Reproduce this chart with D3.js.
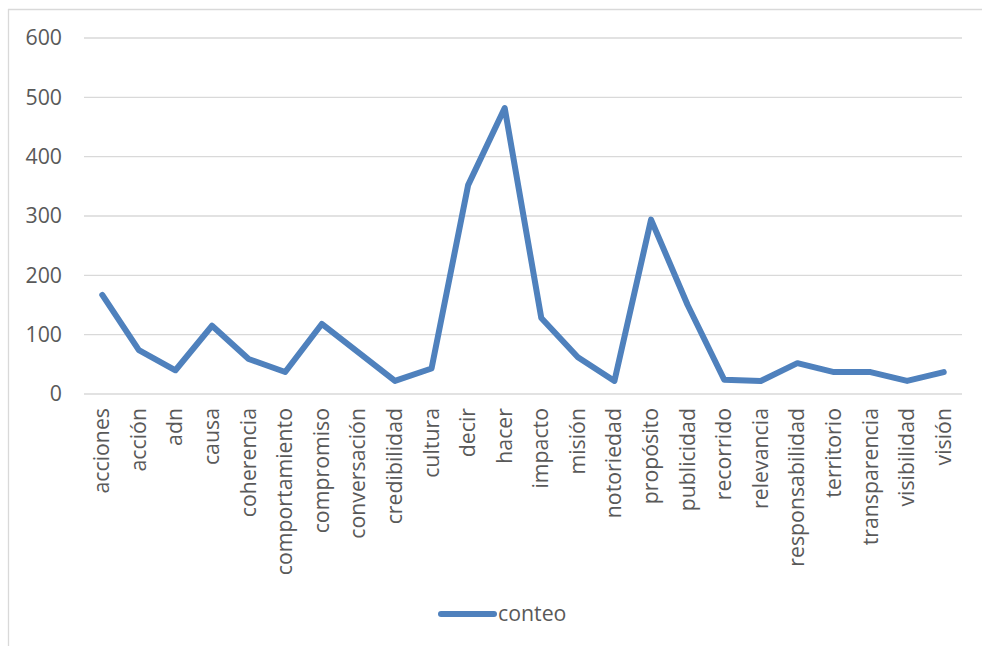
<!DOCTYPE html>
<html>
<head>
<meta charset="utf-8">
<script src="https://cdn.jsdelivr.net/npm/d3@7"></script>
<style>
  body { margin: 0; background: #fff; }
  text { font-family: "Open Sans", sans-serif; fill: #595959; }
</style>
</head>
<body>
<svg id="chart" width="982" height="646"></svg>
<script>
// palabras y conteo
var words = ["acciones", "acción", "adn", "causa", "coherencia", "comportamiento", "compromiso",
  "conversación", "credibilidad", "cultura", "decir", "hacer", "impacto", "misión", "notoriedad",
  "propósito", "publicidad", "recorrido", "relevancia", "responsabilidad", "territorio",
  "transparencia", "visibilidad", "visión"]

var conteo = [167, 74, 40, 115, 59, 37, 118, 70, 22, 43, 352, 482, 128, 62, 22, 294, 150, 24, 22, 52, 37, 37, 22, 37]

var yTicks = [0, 100, 200, 300, 400, 500, 600]

var lineColor = "#4F81BD"
var gridColor = "#d9d9d9"
var fontSize = "21.3px"

var svg = d3.select("#chart")

// marco del grafico (recortado arriba / izquierda)
svg.append("line").attr("x1", 8).attr("x2", 982).attr("y1", 9.5).attr("y2", 9.5)
  .style("stroke", gridColor).style("stroke-width", 1.3)
svg.append("line").attr("x1", 8.5).attr("x2", 8.5).attr("y1", 9).attr("y2", 646)
  .style("stroke", gridColor).style("stroke-width", 1.3)

var x = d3.scaleBand().domain(words).range([84, 962])
var y = d3.scaleLinear().domain([0, 600]).range([394, 38])

// grid
svg.append("g").selectAll("line")
  .data(yTicks)
  .enter().append("line")
  .attr("x1", 84).attr("x2", 962)
  .attr("y1", function (d) { return y(d) }).attr("y2", function (d) { return y(d) })
  .style("stroke", gridColor).style("stroke-width", 1.4)

// eje y
var yAxis = svg.append("g")
  .attr("transform", "translate(62,0)")
  .call(d3.axisLeft(y).tickValues(yTicks).tickSize(0).tickPadding(0))
yAxis.select(".domain").remove()
yAxis.selectAll("text")
  .style("font-size", fontSize)
  .style("font-family", "'Open Sans', sans-serif")
  .attr("fill", "#595959")

// eje x, etiquetas giradas
var xAxis = svg.append("g")
  .attr("transform", "translate(0,408)")
  .call(d3.axisBottom(x).tickSize(0).tickPadding(0))
xAxis.select(".domain").remove()
xAxis.selectAll("text")
  .style("font-size", fontSize)
  .style("font-family", "'Open Sans', sans-serif")
  .attr("fill", "#595959")
  .attr("text-anchor", "end")
  .attr("transform", "rotate(-90)")
  .attr("x", 0)
  .attr("y", 0)
  .attr("dy", "0.33em")

var line = d3.line()
  .x(function (d, i) { return x(words[i]) + x.bandwidth() / 2 })
  .y(function (d) { return y(d) })

svg.append("path")
  .datum(conteo)
  .attr("d", line)
  .style("fill", "none")
  .style("stroke", lineColor)
  .style("stroke-width", 6)
  .style("stroke-linejoin", "round")
  .style("stroke-linecap", "round")

// leyenda
svg.append("line").attr("x1", 441).attr("x2", 494).attr("y1", 614).attr("y2", 614)
  .style("stroke", lineColor).style("stroke-width", 6).style("stroke-linecap", "round")
svg.append("text").attr("x", 498).attr("y", 621)
  .style("font-size", fontSize)
  .text("conteo")
</script>
</body>
</html>
